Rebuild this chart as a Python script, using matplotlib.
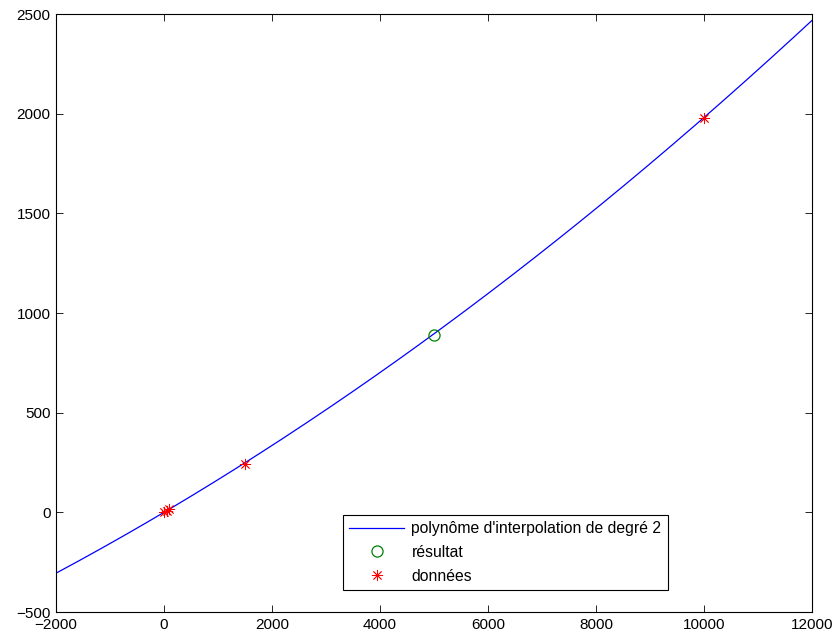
import numpy as np
import matplotlib.pyplot as plt

plt.rcParams['font.family'] = ['Liberation Sans', 'DejaVu Sans']

# coefficients du polynôme de degré 2 (a*x^2 + b*x + c)
poly_coef = [3.79e-6, 0.1602, 0.0]

# points de données
data_x = [0, 50, 100, 1500, 10000]
data_y = [0, 8, 16, 245, 1980]

# résultat de l'interpolation
res_x = [5000]
res_y = [892]

x_range = [-2000, 12000]
y_range = [-500, 2500]

fig = plt.figure(figsize=(8.38, 6.36), dpi=100)
ax = fig.add_axes([0.0668, 0.0377, 0.902, 0.940])

xx = np.linspace(x_range[0], x_range[1], 400)
ax.plot(xx, np.polyval(poly_coef, xx), color='#0000ff', lw=0.9,
        label="polynôme d'interpolation de degré 2")
ax.plot(res_x, res_y, 'o', mfc='none', mec='#008000', ms=8, mew=0.9,
        label='résultat')
ax.plot(data_x, data_y, ls='none', marker=(8, 2, 0), color='#ff0000',
        ms=8, mew=0.6, label='données')

ax.set_xlim(x_range)
ax.set_ylim(y_range)
ax.set_xticks(np.arange(-2000, 12001, 2000))
ax.set_yticks(np.arange(-500, 2501, 500))
ax.tick_params(direction='in', top=True, right=True, labelsize=11,
               length=5, width=0.6, pad=4)
for s in ax.spines.values():
    s.set_linewidth(0.8)

leg = ax.legend(loc='lower left', bbox_to_anchor=(0.380, 0.037),
                fancybox=False, edgecolor='black', framealpha=1,
                fontsize=11.3, handlelength=3.45, handletextpad=0.5,
                borderaxespad=0, labelspacing=0.55, borderpad=0.4)
leg.get_frame().set_linewidth(0.8)

fig.savefig('out.png', dpi=100, facecolor='white')
